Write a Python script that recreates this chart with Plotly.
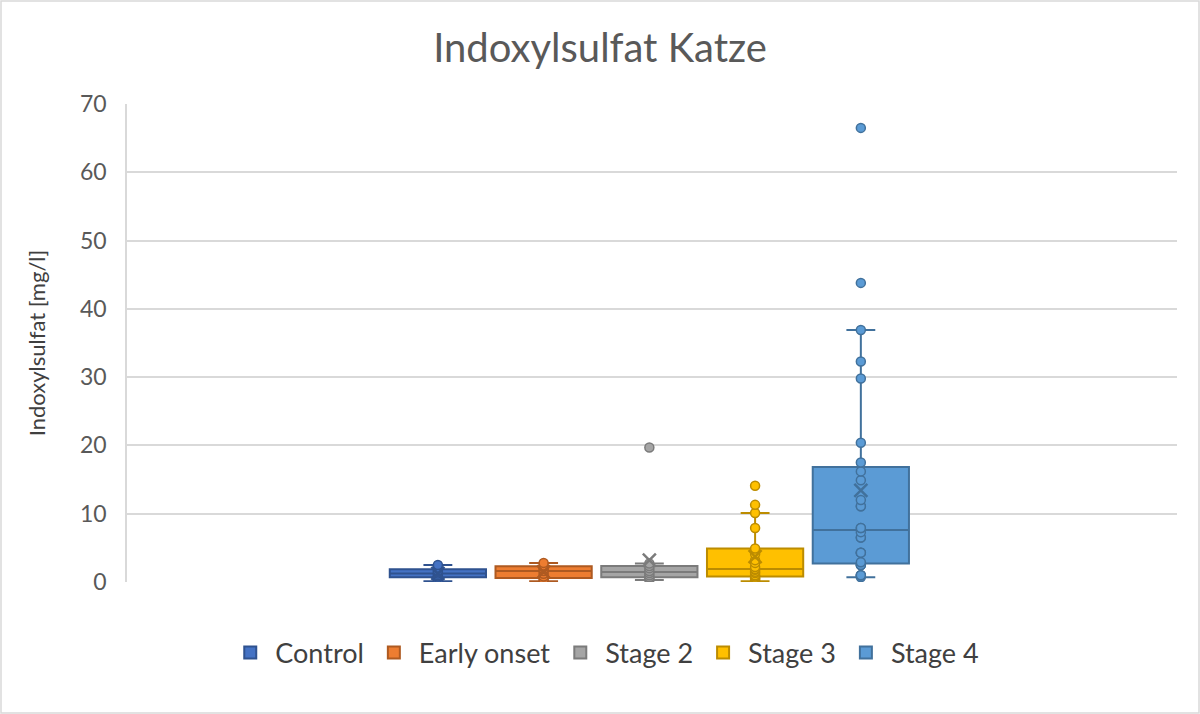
import numpy as np
import plotly.graph_objects as go

series = ["Control", "Early onset", "Stage 2", "Stage 3", "Stage 4"]
control = [0.1, 0.6, 0.8, 1.0, 1.25, 1.5, 1.7, 2.0, 2.5]
early_onset = [0.1, 0.4, 0.8, 1.2, 1.6, 1.9, 2.2, 2.4, 2.8]
stage2 = [0.3, 0.5, 0.7, 1.0, 1.3, 1.6, 2.0, 2.35, 2.7, 19.7]
stage3 = [0.1, 0.3, 0.5, 0.6, 0.8, 1.0, 1.3, 1.5, 1.8, 1.9, 2.2, 2.8, 3.2, 4.1,
          4.9, 7.9, 10.1, 11.3, 14.1]
stage4 = [0.7, 1.0, 1.0, 1.0, 2.5, 2.5, 2.5, 2.9, 4.3, 4.3, 4.3, 6.5, 6.5, 7.3,
          7.9, 7.9, 11.1, 11.1, 12.0, 14.9, 16.2, 17.5, 20.4, 29.8, 32.3, 36.9,
          43.8, 66.5]
values = [control, early_onset, stage2, stage3, stage4]

fills = ["#4472C4", "#ED7D31", "#A5A5A5", "#FFC000", "#5B9BD5"]
borders = ["#2F528F", "#AE5A21", "#7B7B7B", "#BC8C00", "#41719C"]

y_ticks = [0, 10, 20, 30, 40, 50, 60, 70]

fig = go.Figure()
for name, vals, fc, bc in zip(series, values, fills, borders):
    fig.add_trace(go.Box(
        x=[name] * len(vals), y=vals, name=name,
        quartilemethod="exclusive",
        boxpoints="all", pointpos=0, jitter=0,
        fillcolor=fc, line=dict(color=bc, width=2),
        marker=dict(color=fc, size=9, line=dict(color=bc, width=1.5), opacity=1),
        whiskerwidth=0.3, width=0.91,
        showlegend=True,
    ))
for name, vals, bc in zip(series, values, borders):
    fig.add_trace(go.Scatter(
        x=[name], y=[float(np.mean(vals))], mode="markers",
        marker=dict(symbol="x-thin-open", size=13, color=bc,
                    line=dict(color=bc, width=2.5)),
        showlegend=False, hoverinfo="skip",
    ))

W, H = 1200, 714
L, R, T, B = 127, 23, 104, 132
pw, ph = W - L - R, H - T - B

fig.update_layout(
    width=W, height=H,
    margin=dict(l=L, r=R, t=T, b=B),
    paper_bgcolor="white", plot_bgcolor="white",
    boxmode="overlay",
    font=dict(family="Lato, Open Sans, sans-serif", color="#595959"),
    title=dict(text="Indoxylsulfat Katze", x=0.5, xanchor="center",
               y=1 - 48 / H, yanchor="middle",
               font=dict(size=40, color="#595959", family="Lato, Open Sans, sans-serif")),
    xaxis=dict(type="category", categoryorder="array", categoryarray=series,
               range=[-2.94, 6.99], showticklabels=False, showgrid=False,
               zeroline=False, showline=False, ticks=""),
    yaxis=dict(range=[0, 70], tickvals=y_ticks, showgrid=True, gridcolor="#D9D9D9",
               gridwidth=1.5, zeroline=False, showline=True, linecolor="#D9D9D9",
               linewidth=1.5, ticks="", ticklen=0, ticklabelstandoff=14,
               tickfont=dict(size=23, color="#595959"),
               title=dict(text="Indoxylsulfat [mg/l]", standoff=28,
                          font=dict(size=22, color="#404040"))),
    legend=dict(orientation="h", x=0.455, xanchor="center", y=-(653 - 582) / ph,
                yanchor="middle", font=dict(size=27, color="#404040"),
                itemwidth=40, traceorder="normal"),
    shapes=[dict(type="rect", xref="paper", yref="paper",
                 x0=-(L - 1) / pw, x1=1 + (R - 1) / pw,
                 y0=-(B - 1) / ph, y1=1 + (T - 1) / ph,
                 line=dict(color="#D9D9D9", width=1.5), layer="below")],
)

fig.write_html("out.html", config={"displayModeBar": False},
               post_script="document.body.style.margin='0px';document.body.style.overflow='hidden';")
